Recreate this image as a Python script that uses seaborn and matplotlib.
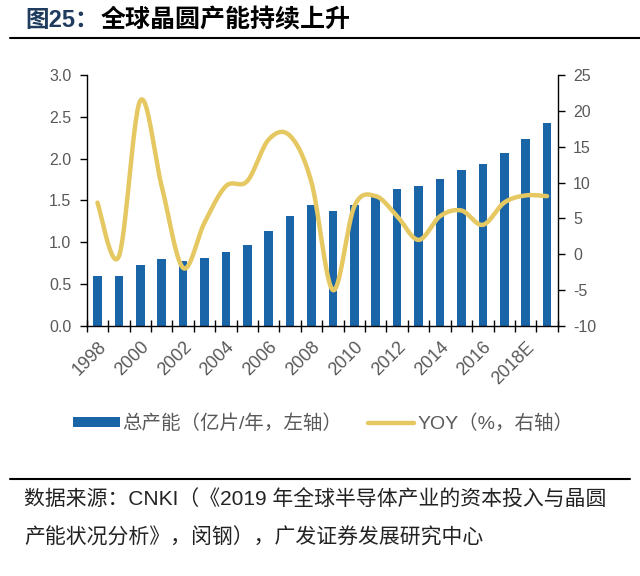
import numpy as np
import pandas as pd
import matplotlib
matplotlib.use("Agg")
import matplotlib.pyplot as plt
from matplotlib.patches import Patch
from matplotlib.lines import Line2D
import seaborn as sns

years = ["1998", "1999", "2000", "2001", "2002", "2003", "2004", "2005", "2006", "2007",
         "2008", "2009", "2010", "2011", "2012", "2013", "2014", "2015", "2016", "2017",
         "2018E", "2019E"]
capacity = [0.60, 0.60, 0.73, 0.80, 0.78, 0.81, 0.88, 0.97, 1.13, 1.31,
            1.44, 1.37, 1.45, 1.55, 1.64, 1.67, 1.76, 1.86, 1.94, 2.07,
            2.24, 2.42]
yoy = [7.2, -0.3, 21.4, 9.5, -1.9, 4.4, 9.5, 10.2, 16.0, 16.5,
       10.0, -5.0, 6.7, 8.1, 5.3, 2.0, 5.3, 6.1, 4.1, 7.2,
       8.2, 8.1]
left_ticks = [0.0, 0.5, 1.0, 1.5, 2.0, 2.5, 3.0]
right_ticks = [-10, -5, 0, 5, 10, 15, 20, 25]

title_prefix = "图25："
title_rest = "全球晶圆产能持续上升"
legend_bar = "总产能（亿片/年，左轴）"
legend_line = "YOY（%，右轴）"
source_1 = "数据来源：CNKI（《2019 年全球半导体产业的资本投入与晶圆"
source_2 = "产能状况分析》，闵钢），广发证券发展研究中心"

BAR = "#1A65A8"
LINE = "#E6C862"
GRAY = "#595959"

sns.set_theme(style="white")
plt.rcParams['font.family'] = ['Liberation Sans', 'Noto Sans CJK SC', 'DejaVu Sans']

fig = plt.figure(figsize=(6.4, 5.76), dpi=100)
ax = fig.add_axes([0.1355, 0.434, 0.736, 0.436])

df = pd.DataFrame({"year": years, "capacity": capacity, "yoy": yoy})
sns.barplot(data=df, x="year", y="capacity", ax=ax, color=BAR, width=0.4,
            saturation=1, edgecolor="none")
ax.set_xlim(-0.5, len(years) - 0.5)
ax.set_ylim(0, 3.0)
ax.set_yticks(left_ticks)
ax.set_yticklabels([f"{v:.1f}" for v in left_ticks])
ax.set_xlabel("")
ax.set_ylabel("")

# smooth curve (Catmull-Rom, like a spreadsheet's smoothed line) through the YOY points
def smooth(xs, ys, n=30):
    xs = np.asarray(xs, float); ys = np.asarray(ys, float)
    P = np.column_stack([xs, ys])
    P = np.vstack([P[0], P, P[-1]])
    out = []
    for i in range(1, len(P) - 2):
        p0, p1, p2, p3 = P[i - 1], P[i], P[i + 1], P[i + 2]
        c1 = p1 + (p2 - p0) / 6.0
        c2 = p2 - (p3 - p1) / 6.0
        t = np.linspace(0, 1, n)[:, None]
        seg = (1 - t) ** 3 * p1 + 3 * (1 - t) ** 2 * t * c1 + 3 * (1 - t) * t ** 2 * c2 + t ** 3 * p2
        out.append(seg if i == 1 else seg[1:])
    return np.vstack(out)

ax2 = ax.twinx()
curve = smooth(np.arange(len(years)), df["yoy"].values)
sns.lineplot(x=curve[:, 0], y=curve[:, 1], ax=ax2, color=LINE, linewidth=3.2,
             sort=False, estimator=None)
ax2.set_ylim(-10, 25)
ax2.set_yticks(right_ticks)
ax2.set_yticklabels([str(v) for v in right_ticks])
ax2.set_xlim(-0.5, len(years) - 0.5)

for a in (ax, ax2):
    a.spines["top"].set_visible(False)
    for s in ("left", "right", "bottom"):
        a.spines[s].set_color("black")
        a.spines[s].set_linewidth(1.0)
    a.grid(False)
ax.spines["right"].set_visible(False)
ax2.spines["left"].set_visible(False)
ax2.spines["bottom"].set_visible(False)

ax.tick_params(axis="y", direction="out", length=5, width=1, color="black",
               labelsize=11.5, labelcolor=GRAY, pad=6, left=True)
ax2.tick_params(axis="y", direction="out", length=5, width=1, color="black",
                labelsize=11.5, labelcolor=GRAY, pad=6, right=True)

# x: labels every 2 years at bar centres, tick marks at category boundaries
ax.set_xticks(np.arange(0, len(years), 2))
ax.set_xticklabels(years[::2], rotation=45, ha="right", rotation_mode="anchor")
ax.set_xticks(np.arange(-0.5, len(years), 1), minor=True)
ax.tick_params(axis="x", which="major", length=0, labelsize=13, labelcolor=GRAY, pad=9)
ax.tick_params(axis="x", which="minor", direction="inout", length=8, width=1,
               color="black", bottom=True)

# legend
handles = [Patch(facecolor=BAR, edgecolor="none", label=legend_bar),
           Line2D([0], [0], color=LINE, linewidth=3.2, label=legend_line)]
leg = fig.legend(handles=handles, loc="center", bbox_to_anchor=(0.505, 0.264), ncol=2,
                 frameon=False, fontsize=14, handlelength=2.4, handleheight=0.43,
                 columnspacing=1.3, handletextpad=0.15)
for t in leg.get_texts():
    t.set_color(GRAY)

# title
fig.text(0.039, 0.965, title_prefix, fontsize=17, fontweight="bold", color="#1F3B5E",
         va="center", ha="left", family=['Liberation Sans', 'Noto Sans CJK SC'])
fig.text(0.157, 0.965, title_rest, fontsize=18, fontweight="bold", color="black",
         va="center", ha="left", family=['Noto Sans CJK SC'])
fig.add_artist(Line2D([0.016, 1.0], [0.9345, 0.9345], color="black", linewidth=1.5,
                      transform=fig.transFigure))
fig.add_artist(Line2D([0.016, 0.985], [0.1685, 0.1685], color="black", linewidth=1.5,
                      transform=fig.transFigure))
fig.text(0.038, 0.132, source_1, fontsize=15, color="#222222", va="center", ha="left")
fig.text(0.038, 0.066, source_2, fontsize=15, color="#222222", va="center", ha="left")

fig.savefig("out.png", dpi=100)
